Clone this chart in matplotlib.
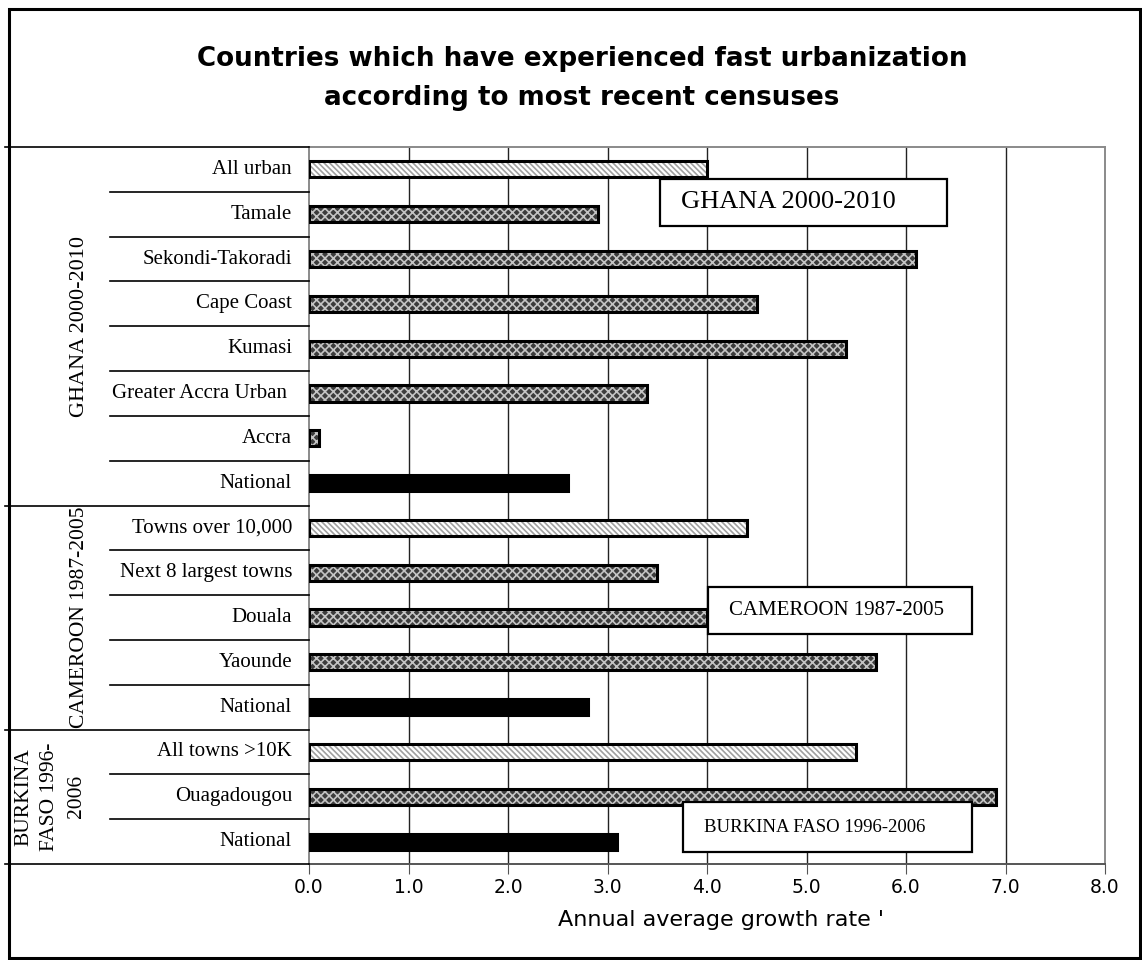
import matplotlib.pyplot as plt
import matplotlib.transforms as mtransforms
from matplotlib.patches import Rectangle
from matplotlib.lines import Line2D

# categories top to bottom
labels = ['All urban', 'Tamale', 'Sekondi-Takoradi', 'Cape Coast', 'Kumasi',
          'Greater Accra Urban ', 'Accra', 'National',
          'Towns over 10,000', 'Next 8 largest towns', 'Douala', 'Yaounde', 'National',
          'All towns >10K', 'Ouagadougou', 'National']
values = [4.0, 2.9, 6.1, 4.5, 5.4, 3.4, 0.1, 2.6,
          4.4, 3.5, 4.0, 5.7, 2.8,
          5.5, 6.9, 3.1]
kinds = ['urban', 'city', 'city', 'city', 'city', 'city', 'city', 'nat',
         'urban', 'city', 'city', 'city', 'nat',
         'urban', 'city', 'nat']
groups = ['GHANA 2000-2010', 'CAMEROON 1987-2005', 'BURKINA\nFASO 1996-\n2006']
group_sizes = [8, 5, 3]
xticks = [0, 1, 2, 3, 4, 5, 6, 7, 8]

W, H = 1142, 960
serif = 'Liberation Serif'

fig = plt.figure(figsize=(W / 100, H / 100), dpi=100)
ax = fig.add_axes([309 / W, 1 - 864 / H, (1105 - 309) / W, (864 - 147) / H])

ys = list(range(len(labels)))
styles = {'urban': dict(facecolor='white', edgecolor='#a0a0a0', hatch='\\\\\\\\\\\\'),
          'city': dict(facecolor='#3c3c3c', edgecolor='#c4c4c4', hatch='xxxx'),
          'nat': dict(facecolor='black', edgecolor='black', hatch=None)}
plt.rcParams['hatch.linewidth'] = 1.2
bh = 0.36
for y, v, k in zip(ys, values, kinds):
    ax.barh(y, v, height=bh, linewidth=0, zorder=2, **styles[k])
    ax.barh(y, v, height=bh, fill=False, edgecolor='black', linewidth=2.2, zorder=3)

ax.set_xlim(0, 8)
ax.set_ylim(len(labels) - 0.5, -0.5)
ax.set_xticks(xticks)
ax.set_xticklabels(['%.1f' % t for t in xticks], fontsize=13.5, family='DejaVu Sans')
ax.tick_params(axis='x', direction='out', length=7, color='#555555', pad=3)
ax.set_yticks([])
for x in xticks[1:-1]:
    ax.axvline(x, color='#222222', linewidth=1.0, zorder=1)
for s in ['top', 'right', 'left', 'bottom']:
    ax.spines[s].set_color('#8a8a8a')
    ax.spines[s].set_linewidth(1.4)
ax.spines['bottom'].set_color('#555555')
ax.set_xlabel("Annual average growth rate '", fontsize=16)
ax.xaxis.set_label_coords((721 - 309) / 796, -56 / 717)
ax.xaxis.label.set_va('center')

# category labels and separators in the left area
trans = mtransforms.blended_transform_factory(fig.transFigure, ax.transData)
for y, lab in zip(ys, labels):
    ax.text(292 / W, y, lab, transform=trans, ha='right', va='center',
            fontsize=15, family=serif)
starts = [0]
for n in group_sizes:
    starts.append(starts[-1] + n)
for i in range(1, len(labels)):
    x0 = 5 if i in starts else 110
    fig.add_artist(Line2D([x0 / W, 309 / W], [i - 0.5, i - 0.5], transform=trans,
                          color='black', linewidth=1.2))
for b in (starts[0], starts[-1]):
    fig.add_artist(Line2D([5 / W, 309 / W], [b - 0.5, b - 0.5], transform=trans,
                          color='black', linewidth=1.2))

group_x = [80, 80, 50]
group_fs = [16, 15.5, 15.5]
group_ls = [1.15, 1.15, 1.5]
for g, s, n, gx, fs, ls in zip(groups, starts, group_sizes, group_x, group_fs, group_ls):
    ax.text(gx / W, s + (n - 1) / 2, g, transform=trans, rotation=90,
            ha='center', va='center', fontsize=fs, family=serif,
            multialignment='center', linespacing=ls)

# boxed annotations
boxes = [('GHANA 2000-2010', 660, 179, 947, 226, 19),
         ('CAMEROON 1987-2005', 708, 587, 972, 634, 15),
         ('BURKINA FASO 1996-2006', 683, 802, 972, 852, 13.5)]
for txt, x0, y0, x1, y1, fs in boxes:
    fig.add_artist(Rectangle((x0 / W, 1 - y1 / H), (x1 - x0) / W, (y1 - y0) / H,
                             transform=fig.transFigure, facecolor='white',
                             edgecolor='black', linewidth=1.6, zorder=5))
    fig.text((x0 + 21) / W, 1 - (y0 + y1) / 2 / H, txt, ha='left', va='center',
             fontsize=fs, family=serif, zorder=6)

fig.suptitle('Countries which have experienced fast urbanization\naccording to most recent censuses',
             x=582 / W, y=1 - 46 / H, fontsize=18.8, fontweight='bold', linespacing=1.65)

fig.add_artist(Rectangle((9 / W, 2 / H), (1140 - 9) / W, (951 - 2) / H,
                         transform=fig.transFigure, fill=False,
                         edgecolor='black', linewidth=2.2))

fig.savefig('out.png', dpi=100)
